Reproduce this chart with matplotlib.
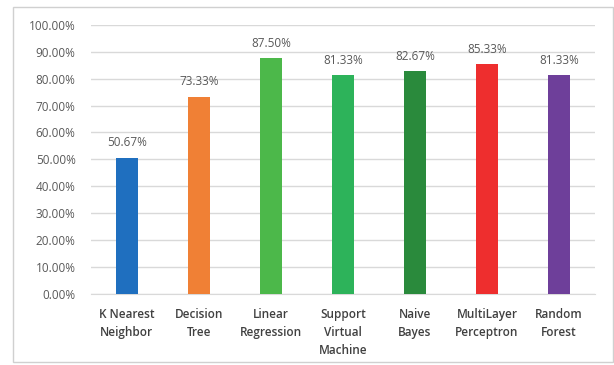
import matplotlib
matplotlib.use("Agg")
import matplotlib.pyplot as plt
from matplotlib.patches import Rectangle

# data
categories = ["K Nearest\nNeighbor", "Decision\nTree", "Linear\nRegression",
              "Support\nVirtual\nMachine", "Naive\nBayes", "MultiLayer\nPerceptron",
              "Random\nForest"]
accuracy = [50.67, 73.33, 87.50, 81.33, 82.67, 85.33, 81.33]
colors = ["#1F6FBF", "#F08035", "#4CB84A", "#2DB35A", "#2A8A3C", "#EE2E2E", "#6E3F9A"]
yticks = [0, 10, 20, 30, 40, 50, 60, 70, 80, 90, 100]

plt.rcParams["font.family"] = ["Open Sans", "DejaVu Sans"]
txt = "#595959"

fig = plt.figure(figsize=(6.14, 3.65), dpi=100)
ax = fig.add_axes([0.148, 0.195, 0.821, 0.737])

x = range(len(categories))
ax.bar(x, accuracy, width=0.3, color=colors, zorder=3)
for i, v in zip(x, accuracy):
    ax.text(i, v + 3, "%.2f%%" % v, ha="center", va="bottom", fontsize=8.5, color=txt)

ax.set_ylim(0, 100)
ax.set_xlim(-0.5, len(categories) - 0.5)
ax.set_yticks(yticks)
ax.set_yticklabels(["%.2f%%" % t for t in yticks], fontsize=8.5, color=txt)
ax.set_xticks(list(x))
ax.set_xticklabels(categories, fontsize=8.5, color="#404040", linespacing=1.5,
                   fontweight="semibold")
ax.tick_params(axis="x", length=0, pad=10)
ax.tick_params(axis="y", length=0, pad=11)
ax.grid(axis="y", color="#D9D9D9", linewidth=1, zorder=0)
for s in ["top", "right", "left"]:
    ax.spines[s].set_visible(False)
ax.spines["bottom"].set_color("#D9D9D9")

fig.patches.append(Rectangle((0.021, 0.008), 0.977, 0.973, transform=fig.transFigure,
                             fill=False, edgecolor="#D0D0D0", linewidth=1))

fig.savefig("out.png", dpi=100)
